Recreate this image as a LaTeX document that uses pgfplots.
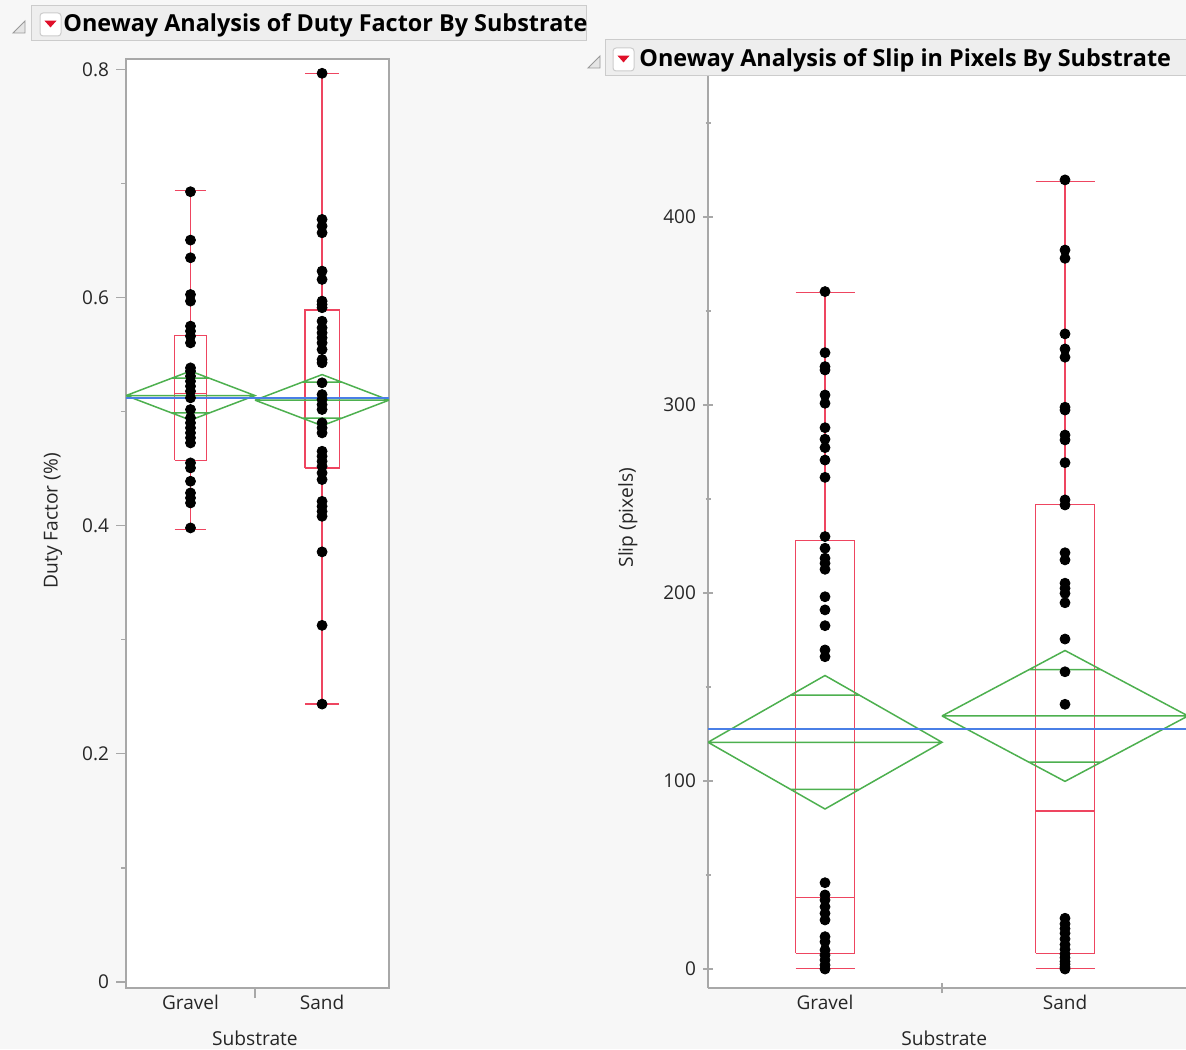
\documentclass[border=0pt]{standalone}
\usepackage{pgfplots}
\pgfplotsset{compat=1.18}
\usepackage{fontspec}
\setmainfont{Open Sans}
\definecolor{bg}{HTML}{F7F7F7}
\definecolor{barbg}{HTML}{EEEEEE}
\definecolor{barline}{HTML}{CCCCCC}
\definecolor{frame}{HTML}{A8A8A8}
\definecolor{boxred}{HTML}{EE4560}
\definecolor{dgreen}{HTML}{4DB04F}
\definecolor{mblue}{HTML}{4A7FE6}
\definecolor{txt}{HTML}{262626}
\definecolor{tri}{HTML}{999999}
\definecolor{btnred}{HTML}{E0102A}

\pgfplotsset{
  jmp/.style={
    scale only axis, anchor=south west,
    axis background/.style={fill=white},
    axis line style={draw=frame, line width=0.6pt},
    tick style={draw=frame, line width=0.6pt},
    tick align=outside, ytick pos=left, xtick pos=bottom,
    major tick length=5pt, minor tick length=2.5pt,
    xtick={1}, xticklabels={},
    extra x tick style={major tick length=0pt},
    tick label style={font=\fontsize{9.5}{10}\selectfont, text=txt},
    label style={font=\fontsize{9.6}{10}\selectfont, text=txt},
    /pgf/number format/assume math mode=true,
    unbounded coords=jump,
    clip=true,
  },
  dots/.style={only marks, mark=*, mark size=2.5pt, black, mark options={draw=black, fill=black}},
  boxp/.style={boxred, line width=0.6pt, no marks},
  diam/.style={dgreen, line width=0.75pt, no marks},
  gmean/.style={mblue, line width=0.8pt, no marks},
}

\begin{document}
\begin{tikzpicture}[x=1pt,y=1pt]
\fill[bg] (0,0) rectangle (593,524.5);
\useasboundingbox (0,0) rectangle (593,524.5);

% ---------------- Left panel ----------------
\begin{axis}[jmp,
  at={(63pt,30.5pt)}, width=131.5pt, height=464.5pt,
  xmin=0, xmax=2.0388, ymin=-0.00526, ymax=0.80903,
  ytick={0,0.2,0.4,0.6,0.8}, minor ytick={0.1,0.3,0.5,0.7},
  yticklabel style={/pgf/number format/fixed, /pgf/number format/precision=1},
  extra x ticks={0.5,1.52}, extra x tick labels={Gravel,Sand},
  xlabel={Substrate}, ylabel={Duty Factor (\%)},
  xlabel style={at={(axis description cs:0.49,-0.0538)}, anchor=center},
  ylabel style={at={(axis description cs:-0.2776,0.503)}, anchor=center, rotate=0},
]
\addplot[dots] coordinates {
(0.5,0.6927) (0.5,0.6503) (0.5,0.6348) (0.5,0.6026) (0.5,0.5968) (0.5,0.5749)
(0.5,0.5705) (0.5,0.5661) (0.5,0.5602) (0.5,0.5383) (0.5,0.5354) (0.5,0.5310)
(0.5,0.5266) (0.5,0.5222) (0.5,0.5178) (0.5,0.5120) (0.5,0.5018) (0.5,0.4945)
(0.5,0.4901) (0.5,0.4857) (0.5,0.4813) (0.5,0.4770) (0.5,0.4725) (0.5,0.4550)
(0.5,0.4506) (0.5,0.4389) (0.5,0.4287) (0.5,0.4243) (0.5,0.4199) (0.5,0.3980)
};
\addplot[dots] coordinates {
(1.52,0.7965) (1.52,0.6684) (1.52,0.6626) (1.52,0.6567) (1.52,0.6231) (1.52,0.6158)
(1.52,0.5968) (1.52,0.5939) (1.52,0.5910) (1.52,0.5792) (1.52,0.5734) (1.52,0.5690)
(1.52,0.5646) (1.52,0.5602) (1.52,0.5544) (1.52,0.5456) (1.52,0.5427) (1.52,0.5252)
(1.52,0.5149) (1.52,0.5105) (1.52,0.5061) (1.52,0.5018) (1.52,0.4901) (1.52,0.4857)
(1.52,0.4813) (1.52,0.4652) (1.52,0.4608) (1.52,0.4564) (1.52,0.4520) (1.52,0.4462)
(1.52,0.4404) (1.52,0.4213) (1.52,0.4169) (1.52,0.4125) (1.52,0.4082) (1.52,0.3770)
(1.52,0.3126) (1.52,0.2436)
};
% box plots
\addplot[boxp] coordinates {
(0.376,0.4573) (0.624,0.4573) (0.624,0.5667) (0.376,0.5667) (0.376,0.4573) (0,nan)
(0.376,0.5158) (0.624,0.5158) (0,nan)
(0.5,0.5667) (0.5,0.6936) (0,nan) (0.5,0.4573) (0.5,0.3965) (0,nan)
(0.376,0.6936) (0.624,0.6936) (0,nan) (0.376,0.3965) (0.624,0.3965)
};
\addplot[boxp] coordinates {
(1.388,0.4506) (1.652,0.4506) (1.652,0.5890) (1.388,0.5890) (1.388,0.4506) (0,nan)
(1.388,0.4939) (1.652,0.4939) (0,nan)
(1.52,0.5890) (1.52,0.7965) (0,nan) (1.52,0.4506) (1.52,0.2436) (0,nan)
(1.388,0.7965) (1.652,0.7965) (0,nan) (1.388,0.2436) (1.652,0.2436)
};
% means diamonds
\addplot[diam] coordinates {
(0,0.5140) (0.5,0.5355) (1,0.5140) (0.5,0.4925) (0,0.5140) (0,nan)
(0,0.5140) (1,0.5140) (0,nan)
(0.354,0.5292) (0.646,0.5292) (0,nan) (0.354,0.4988) (0.646,0.4988)
};
\addplot[diam] coordinates {
(1,0.5100) (1.52,0.5324) (2.0388,0.5100) (1.52,0.4876) (1,0.5100) (0,nan)
(1,0.5100) (2.0388,0.5100) (0,nan)
(1.368,0.5258) (1.672,0.5258) (0,nan) (1.368,0.4942) (1.672,0.4942)
};
\addplot[gmean] coordinates {(0,0.5117) (2.0388,0.5117)};
\end{axis}

% ---------------- Right panel ----------------
\begin{axis}[jmp,
  at={(354pt,30.5pt)}, width=239pt, height=456.5pt,
  axis x line=bottom, axis y line=left, axis line style={-},
  xmin=0, xmax=2.0427, ymin=-10.1, ymax=475.5,
  ytick={0,100,200,300,400}, minor ytick={50,150,250,350,450},
  extra x ticks={0.5,1.5256}, extra x tick labels={Gravel,Sand},
  xlabel={Substrate}, ylabel={Slip (pixels)},
  xlabel style={at={(axis description cs:0.494,-0.0548)}, anchor=center},
  ylabel style={at={(axis description cs:-0.1674,0.515)}, anchor=center, rotate=0},
]
\addplot[dots] coordinates {
(0.5,360.3) (0.5,327.8) (0.5,320.4) (0.5,318.6) (0.5,305.3) (0.5,300.9) (0.5,287.9)
(0.5,281.8) (0.5,277.3) (0.5,270.7) (0.5,261.5) (0.5,230.0) (0.5,223.8) (0.5,218.5)
(0.5,215.8) (0.5,212.6) (0.5,198.0) (0.5,191.0) (0.5,182.6) (0.5,169.7) (0.5,166.1)
(0.5,45.9) (0.5,39.4) (0.5,36.7) (0.5,33.1) (0.5,29.6) (0.5,26.1) (0.5,17.2)
(0.5,14.5) (0.5,10.1) (0.5,7.4) (0.5,4.8) (0.5,2.1) (0.5,0.0)
};
\addplot[dots] coordinates {
(1.5256,419.7) (1.5256,382.4) (1.5256,378.0) (1.5256,337.8) (1.5256,329.8) (1.5256,325.4)
(1.5256,298.8) (1.5256,297.3) (1.5256,284.0) (1.5256,281.4) (1.5256,269.3) (1.5256,249.5)
(1.5256,246.8) (1.5256,221.4) (1.5256,217.6) (1.5256,205.2) (1.5256,202.5) (1.5256,199.8)
(1.5256,194.8) (1.5256,175.5) (1.5256,158.1) (1.5256,140.8) (1.5256,27.0) (1.5256,24.0)
(1.5256,21.5) (1.5256,19.0) (1.5256,16.0) (1.5256,13.0) (1.5256,10.5) (1.5256,8.0)
(1.5256,6.0) (1.5256,4.0) (1.5256,2.5) (1.5256,1.0) (1.5256,0.0)
};
\addplot[boxp] coordinates {
(0.374,8.3) (0.626,8.3) (0.626,227.7) (0.374,227.7) (0.374,8.3) (0,nan)
(0.374,38.1) (0.626,38.1) (0,nan)
(0.5,227.7) (0.5,360.0) (0,nan) (0.5,8.3) (0.5,0.4) (0,nan)
(0.374,360.0) (0.626,360.0) (0,nan) (0.374,0.4) (0.626,0.4)
};
\addplot[boxp] coordinates {
(1.4,8.3) (1.652,8.3) (1.652,247.2) (1.4,247.2) (1.4,8.3) (0,nan)
(1.4,84.0) (1.652,84.0) (0,nan)
(1.5256,247.2) (1.5256,418.8) (0,nan) (1.5256,8.3) (1.5256,0.4) (0,nan)
(1.4,418.8) (1.652,418.8) (0,nan) (1.4,0.4) (1.652,0.4)
};
\addplot[diam] coordinates {
(0,120.6) (0.5,156.1) (1,120.6) (0.5,85.1) (0,120.6) (0,nan)
(0,120.6) (1,120.6) (0,nan)
(0.354,145.7) (0.646,145.7) (0,nan) (0.354,95.5) (0.646,95.5)
};
\addplot[diam] coordinates {
(1,134.6) (1.5256,169.4) (2.0513,134.6) (1.5256,99.8) (1,134.6) (0,nan)
(1,134.6) (2.0513,134.6) (0,nan)
(1.372,159.2) (1.679,159.2) (0,nan) (1.372,110.0) (1.679,110.0)
};
\addplot[gmean] coordinates {(0,127.8) (2.0427,127.8)};
\end{axis}

% ---------------- Title bars ----------------
% left
\filldraw[fill=barbg, draw=barline, line width=0.5pt] (15.5,504) rectangle (293,521.5);
\filldraw[fill=white!90!black, draw=tri, line width=0.45pt] (12.5,514) -- (12.5,508) -- (6.5,508) -- cycle;
\filldraw[fill=white, draw=barline, line width=0.5pt, rounded corners=1.5pt] (20,506.5) rectangle (30.5,518);
\fill[btnred] (22.2,514.2) -- (28.3,514.2) -- (25.25,510.8) -- cycle;
\node[anchor=west, inner sep=0pt, font=\bfseries\fontsize{11.7}{12}\selectfont] at (31.5,511.8) {Oneway Analysis of Duty Factor By Substrate};
% right
\filldraw[fill=barbg, draw=barline, line width=0.5pt] (302.5,486.5) rectangle (594,504.5);
\filldraw[fill=white!90!black, draw=tri, line width=0.45pt] (300,496.5) -- (300,490.5) -- (294,490.5) -- cycle;
\filldraw[fill=white, draw=barline, line width=0.5pt, rounded corners=1.5pt] (306.5,489) rectangle (317,500.5);
\fill[btnred] (308.7,496.7) -- (314.8,496.7) -- (311.75,493.3) -- cycle;
\node[anchor=west, inner sep=0pt, font=\bfseries\fontsize{11.7}{12}\selectfont] at (319.5,494.5) {Oneway Analysis of Slip in Pixels By Substrate};
\end{tikzpicture}
\end{document}
